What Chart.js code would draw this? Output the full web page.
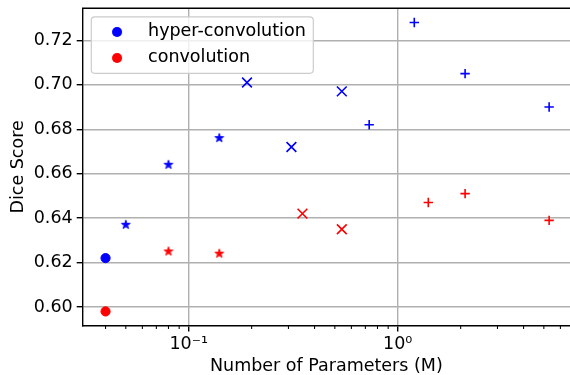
<!DOCTYPE html>
<html><head><meta charset="utf-8">
<script src="https://cdn.jsdelivr.net/npm/chart.js@4/dist/chart.umd.min.js"></script>
<style>html,body{margin:0;padding:0;background:#fff;overflow:hidden}canvas{display:block}</style>
</head><body>
<canvas id="c" width="570" height="375"></canvas>
<script>
// ---- data ----
const seriesNames = ['hyper-convolution', 'convolution'];
const seriesColors = ['#0000ff', '#ff0000'];
const hyperParams = [0.04, 0.05, 0.08, 0.14, 0.19, 0.31, 0.54, 0.73, 1.2, 2.1, 5.3];
const hyperDice   = [0.622, 0.637, 0.664, 0.676, 0.701, 0.672, 0.697, 0.682, 0.728, 0.705, 0.690];
const hyperMarkers = ['o', '*', '*', '*', 'x', 'x', 'x', '+', '+', '+', '+'];
const convParams = [0.04, 0.08, 0.14, 0.35, 0.54, 1.4, 2.1, 5.3];
const convDice   = [0.598, 0.625, 0.624, 0.642, 0.635, 0.647, 0.651, 0.639];
const convMarkers = ['o', '*', '*', 'x', 'x', '+', '+', '+'];
const yTickValues = [0.60, 0.62, 0.64, 0.66, 0.68, 0.70, 0.72];
const xMajorTicks = [0.1, 1];
const xTickLabels = ['10\u207B\u00B9', '10\u2070'];
const xMinorTicks = [0.04, 0.05, 0.06, 0.07, 0.08, 0.09, 0.2, 0.3, 0.4, 0.5, 0.6, 0.7, 0.8, 0.9, 2, 3, 4, 5, 6];
const xAxisTitle = 'Number of Parameters (M)';
const yAxisTitle = 'Dice Score';

// ---- marker helpers ----
function starImage(color) {
  const c = document.createElement('canvas');
  c.width = 14; c.height = 14;
  const g = c.getContext('2d');
  const R = 4.6, r = R * 0.381966;
  g.beginPath();
  for (let i = 0; i < 10; i++) {
    const rad = (i % 2) ? r : R;
    const a = -Math.PI / 2 + i * Math.PI / 5;
    const px = 7 + rad * Math.cos(a), py = 7 + rad * Math.sin(a);
    if (i === 0) g.moveTo(px, py); else g.lineTo(px, py);
  }
  g.closePath();
  g.fillStyle = color; g.fill();
  g.lineWidth = 1; g.strokeStyle = color; g.lineJoin = 'miter'; g.stroke();
  return c;
}
function circleImage(color) {
  const c = document.createElement('canvas');
  c.width = 12; c.height = 12;
  const g = c.getContext('2d');
  g.beginPath(); g.arc(6, 6, 5, 0, Math.PI * 2);
  g.fillStyle = color; g.fill();
  return c;
}
function styleFor(m, color) {
  if (m === 'o') return {s: 'circle', r: 4.6, w: 1};
  if (m === '*') return {s: starImage(color), r: 5, w: 1};
  if (m === 'x') return {s: 'crossRot', r: 6.9, w: 1.6};
  return {s: 'cross', r: 4.7, w: 1.6};
}
function makeDataset(label, color, xs, ys, markers) {
  const st = markers.map(m => styleFor(m, color));
  return {
    label: label,
    data: xs.map((x, i) => ({x: x, y: ys[i]})),
    backgroundColor: color,
    borderColor: color,
    pointStyle: st.map(s => s.s),
    pointRadius: st.map(s => s.r),
    pointHoverRadius: st.map(s => s.r),
    pointBorderWidth: st.map(s => s.w),
    showLine: false
  };
}

const isMajor = v => xMajorTicks.indexOf(v) >= 0;

const framePlugin = {
  id: 'mplFrame',
  beforeDraw(chart) {
    const L = chart.legend, a = chart.chartArea;
    if (!L) return;
    L.left = a.left + 3.6; L.top = a.top + 6.4;
    L.right = L.left + 400; L.bottom = L.top + 200;
  },
  afterDatasetsDraw(chart) {
    const L = chart.legend; if (!L) return;
    const ctx = chart.ctx;
    ctx.save();
    const x = L.left + 5, y = L.top + 2.2, w = 222, h = 56.4, r = 3.5;
    ctx.beginPath();
    ctx.moveTo(x + r, y); ctx.lineTo(x + w - r, y); ctx.arcTo(x + w, y, x + w, y + r, r);
    ctx.lineTo(x + w, y + h - r); ctx.arcTo(x + w, y + h, x + w - r, y + h, r);
    ctx.lineTo(x + r, y + h); ctx.arcTo(x, y + h, x, y + h - r, r);
    ctx.lineTo(x, y + r); ctx.arcTo(x, y, x + r, y, r); ctx.closePath();
    ctx.fillStyle = 'rgba(255,255,255,0.8)'; ctx.fill();
    ctx.strokeStyle = '#cccccc'; ctx.lineWidth = 1.2; ctx.stroke();
    ctx.restore();
    L.draw();
  },
  afterDraw(chart) {
    const ctx = chart.ctx, a = chart.chartArea, xs = chart.scales.x;
    ctx.save();
    ctx.strokeStyle = '#000';
    ctx.lineWidth = 1.4;
    ctx.beginPath(); ctx.moveTo(a.left - 0.7, a.top); ctx.lineTo(a.right + 1, a.top); ctx.stroke();
    ctx.lineWidth = 1.05;
    xMinorTicks.forEach(v => {
      const px = xs.getPixelForValue(v);
      ctx.beginPath(); ctx.moveTo(px, a.bottom); ctx.lineTo(px, a.bottom + 3.5); ctx.stroke();
    });
    ctx.restore();
  }
};

Chart.defaults.font.family = "'DejaVu Sans', sans-serif";
Chart.defaults.font.size = 17.5;
Chart.defaults.color = '#000';

new Chart(document.getElementById('c'), {
  type: 'scatter',
  data: {
    datasets: [
      makeDataset(seriesNames[0], seriesColors[0], hyperParams, hyperDice, hyperMarkers),
      makeDataset(seriesNames[1], seriesColors[1], convParams, convDice, convMarkers)
    ]
  },
  options: {
    responsive: false,
    animation: false,
    devicePixelRatio: 1,
    layout: {autoPadding: false, padding: {top: 8.3, right: 0, left: 0, bottom: 0}},
    events: [],
    scales: {
      x: {
        type: 'logarithmic',
        min: 0.0311, max: 6.67,
        bounds: 'data',
        afterBuildTicks: s => { s.ticks = xMajorTicks.concat(xMinorTicks).sort((a, b) => a - b).map(v => ({value: v, major: isMajor(v)})); },
        afterFit: s => { s.height = 49.5; s.paddingLeft = 0; s.paddingRight = 0; },
        ticks: {
          autoSkip: false, maxRotation: 0, minRotation: 0, padding: 2,
          font: {size: 17.5},
          callback: v => { const i = xMajorTicks.indexOf(v); return i >= 0 ? xTickLabels[i] : ''; }
        },
        grid: {
          color: c => (c.tick && isMajor(c.tick.value)) ? '#b0b0b0' : 'rgba(0,0,0,0)',
          lineWidth: 1.4,
          tickColor: c => (c.tick && isMajor(c.tick.value)) ? '#000' : 'rgba(0,0,0,0)',
          tickLength: 6, tickWidth: 1.4
        },
        border: {color: '#000', width: 1.4},
        title: {display: true, text: xAxisTitle, font: {size: 17.5, lineHeight: 1}, padding: 0}
      },
      y: {
        type: 'linear',
        min: 0.59168, max: 0.7344,
        bounds: 'data',
        afterBuildTicks: s => { s.ticks = yTickValues.map(v => ({value: v})); },
        afterFit: s => { s.width = 82.7; s.paddingTop = 0; s.paddingBottom = 0; },
        ticks: {padding: 4, font: {size: 17.5}, callback: v => Number(v).toFixed(2)},
        grid: {color: '#b0b0b0', lineWidth: 1.4, tickColor: '#000', tickLength: 6, tickWidth: 1.4},
        border: {color: '#000', width: 1.4},
        title: {display: true, text: yAxisTitle, font: {size: 17.5, lineHeight: 1}, padding: {top: 10, bottom: 0}}
      }
    },
    plugins: {
      tooltip: {enabled: false},
      legend: {
        position: 'chartArea',
        align: 'start',
        labels: {
          usePointStyle: true,
          pointStyleWidth: 44.5,
          padding: 8.5,
          color: '#000',
          font: {size: 17.5},
          generateLabels: chart => {
            const items = Chart.defaults.plugins.legend.labels.generateLabels(chart);
            items.forEach((it, i) => { it.pointStyle = circleImage(seriesColors[i]); });
            return items;
          }
        }
      }
    }
  },
  plugins: [framePlugin]
});
</script>
</body></html>
